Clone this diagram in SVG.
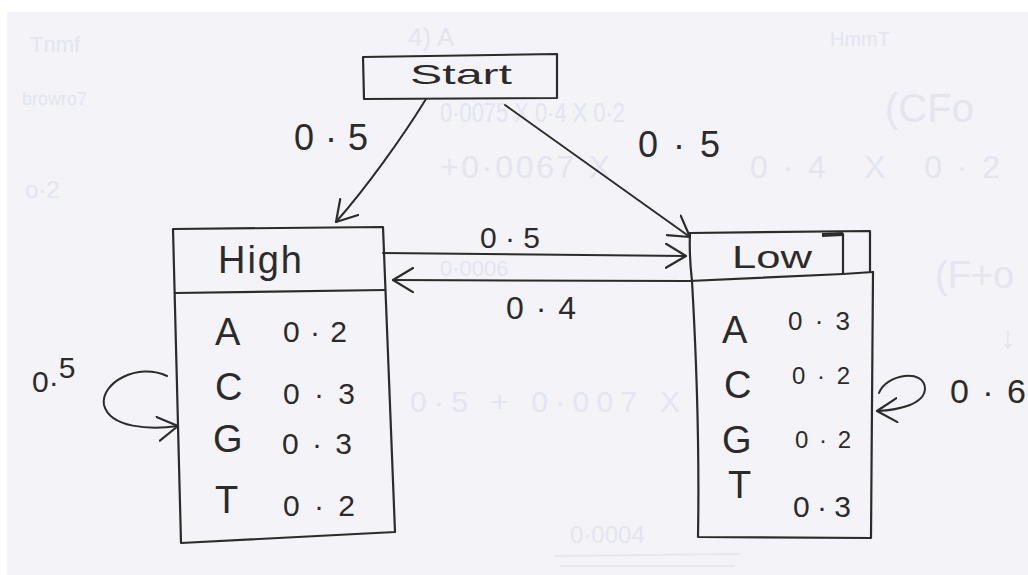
<svg xmlns="http://www.w3.org/2000/svg" width="1028" height="575" viewBox="0 0 1028 575">
  <style>
    .ink { fill: none; stroke: #2b2b2b; stroke-width: 2.2; stroke-linecap: round; stroke-linejoin: round; }
    .paperfill { fill: #f3f3f8; stroke: none; }
    .txt { font-family: "Liberation Sans", Arial, sans-serif; fill: #2b2b2b; }
    .sym { font-size: 38px; }
    .num { font-size: 30px; }
    .ghost { font-family: "Liberation Sans", Arial, sans-serif; fill: #e4e5ee; }
    .edge { fill: none; stroke: #2b2b2b; stroke-width: 2; stroke-linecap: round; marker-end: url(#head); }
  </style>
  <defs>
    <!-- open, hand-drawn style arrow tip -->
    <marker id="head" markerUnits="userSpaceOnUse" viewBox="0 0 22 26" markerWidth="22" markerHeight="26" refX="21" refY="13" orient="auto">
      <path d="M1,1 L21,13 L1,25" fill="none" stroke="#2b2b2b" stroke-width="2.2" stroke-linecap="round" stroke-linejoin="round"/>
    </marker>
  </defs>

  <!-- sheet of paper -->
  <rect x="0" y="0" width="1028" height="575" fill="#ffffff"/>
  <rect x="7" y="12" width="1021" height="563" fill="#f3f3f8"/>

  <!-- faint writing showing through from the other side of the sheet -->
  <g id="show-through">
    <text class="ghost" x="30" y="52" font-size="22">Tnmf</text>
    <text class="ghost" x="22" y="105" font-size="18">browro7</text>
    <text class="ghost" x="408" y="46" font-size="26">4) A</text>
    <text class="ghost" x="830" y="46" font-size="20">HmmT</text>
    <text class="ghost" x="440" y="122" font-size="28" textLength="185" lengthAdjust="spacingAndGlyphs">0·0075 X 0·4 X 0·2</text>
    <text class="ghost" x="885" y="122" font-size="40">(CFo</text>
    <text class="ghost" x="440" y="178" font-size="32" textLength="170" lengthAdjust="spacing">+0·0067 X</text>
    <text class="ghost" x="750" y="178" font-size="32" textLength="250" lengthAdjust="spacing">0·4 X 0·2</text>
    <text class="ghost" x="25" y="198" font-size="24">o·2</text>
    <text class="ghost" x="440" y="276" font-size="22">0·0006</text>
    <text class="ghost" x="935" y="288" font-size="38">(F+o</text>
    <text class="ghost" x="1000" y="348" font-size="32">↓</text>
    <text class="ghost" x="410" y="412" font-size="30" textLength="270" lengthAdjust="spacing">0·5 + 0·007 X</text>
    <text class="ghost" x="570" y="543" font-size="24">0·0004</text>
    <path d="M555,556 L740,554 M560,566 L735,566" stroke="#e6e7ef" stroke-width="2" fill="none"/>
  </g>

  <!-- Start node -->
  <g id="start">
    <path class="paperfill" d="M363,57 L557,54 L557,98 L364,99 Z"/>
    <path class="ink" d="M363,57 L557,54 L557,98 L364,99 Z"/>
    <text class="txt" x="410" y="84" font-size="28" textLength="102" lengthAdjust="spacingAndGlyphs">Start</text>
  </g>

  <!-- High state with emission table -->
  <g id="high">
    <path class="paperfill" d="M173,229 L383,227 L395,532 L181,543 Z"/>
    <path class="ink" d="M173,229 L383,227 L395,532 L181,543 Z"/>
    <path class="ink" d="M175,293 L385,290"/>
    <text class="txt" x="218" y="273" font-size="38" textLength="84" lengthAdjust="spacing">High</text>
    <text class="txt sym" x="215" y="345">A</text>
    <text class="txt num" x="283" y="342" textLength="64" lengthAdjust="spacing">0·2</text>
    <text class="txt sym" x="215" y="400">C</text>
    <text class="txt num" x="283" y="404" textLength="72" lengthAdjust="spacing">0·3</text>
    <text class="txt sym" x="213" y="452">G</text>
    <text class="txt num" x="282" y="454" textLength="70" lengthAdjust="spacing">0·3</text>
    <text class="txt sym" x="215" y="513">T</text>
    <text class="txt num" x="283" y="516" textLength="72" lengthAdjust="spacing">0·2</text>
  </g>

  <!-- Low state with emission table -->
  <g id="low">
    <path class="paperfill" d="M690,233 L870,231 L873,272 L871,538 L698,537 Z"/>
    <path class="ink" d="M690,233 L870,231 L870,271"/>
    <path class="ink" d="M843,234 L843,274"/>
    <path d="M822,235 L843,234" stroke="#2b2b2b" stroke-width="4" fill="none"/>
    <path class="ink" d="M689,281 L843,274 L873,272"/>
    <path class="ink" d="M690,233 Q689,255 692,281 Q700,420 698,537 L871,538 L873,272"/>
    <text class="txt" x="732" y="268" font-size="32" textLength="80" lengthAdjust="spacingAndGlyphs">Low</text>
    <text class="txt sym" x="722" y="343">A</text>
    <text class="txt" x="788" y="330" font-size="26" textLength="62" lengthAdjust="spacing">0·3</text>
    <text class="txt sym" x="724" y="398">C</text>
    <text class="txt" x="792" y="384" font-size="24" textLength="58" lengthAdjust="spacing">0·2</text>
    <text class="txt sym" x="722" y="453">G</text>
    <text class="txt" x="795" y="448" font-size="24" textLength="56" lengthAdjust="spacing">0·2</text>
    <text class="txt sym" x="728" y="498">T</text>
    <text class="txt num" x="793" y="517" textLength="58" lengthAdjust="spacing">0·3</text>
  </g>

  <!-- transitions with their probabilities -->
  <g id="connectors">
    <path class="edge" d="M426,99 C402,138 366,188 336,222"/>
    <text class="txt" x="294" y="150" font-size="36" textLength="74" lengthAdjust="spacing">0·5</text>

    <path class="edge" d="M505,105 L690,237"/>
    <text class="txt" x="638" y="157" font-size="36" textLength="82" lengthAdjust="spacing">0·5</text>

    <path class="edge" d="M383,253 L686,256"/>
    <text class="txt" x="480" y="248" font-size="30" textLength="60" lengthAdjust="spacing">0·5</text>

    <path class="edge" d="M688,281 L393,280"/>
    <text class="txt" x="506" y="319" font-size="32" textLength="70" lengthAdjust="spacing">0·4</text>

    <path class="edge" d="M167,376 C138,362 100,383 104,405 C110,428 150,430 178,426"/>
    <text class="txt" x="32" y="392" font-size="30">0·<tspan dy="-14">5</tspan></text>

    <path class="edge" d="M879,393 C886,374 925,368 925,389 C924,404 900,410 877,411"/>
    <text class="txt" x="950" y="403" font-size="34" textLength="76" lengthAdjust="spacing">0·6</text>
  </g>
</svg>
